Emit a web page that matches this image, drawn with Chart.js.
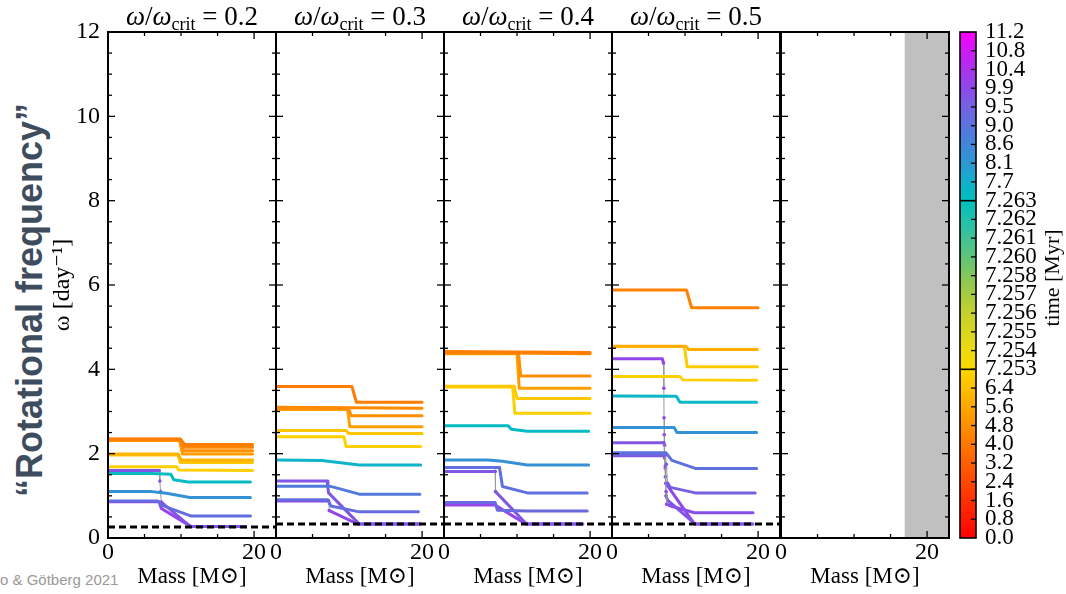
<!DOCTYPE html>
<html>
<head>
<meta charset="utf-8">
<script src="https://cdn.jsdelivr.net/npm/chart.js@4.4.1/dist/chart.umd.min.js"></script>
<style>
  body { margin: 0; background: #fff; }
  #fig { position: relative; width: 1066px; height: 594px; overflow: hidden; font-family: 'Liberation Serif', serif; }
  #fig canvas { position: absolute; top: 0; }
  .ptitle { position: absolute; top: 3px; width: 168px; text-align: center; font-size: 27px; line-height: 27px; white-space: nowrap; color: #000; }
  .ptitle .sub { font-size: 18px; position: relative; top: 5px; }
  #bigLabel { position: absolute; left: 30px; top: 300px; transform: translate(-50%, -50%) rotate(-90deg);
    font: bold 36px 'Liberation Sans', Arial, sans-serif; color: #3e4d5e; white-space: nowrap; }
  #credit { position: absolute; left: 0; top: 572px; font: 15px/15px 'Liberation Sans', Arial, sans-serif; color: #999; white-space: nowrap; }
</style>
</head>
<body>
<div id="fig">
  <div id="bigLabel">“Rotational frequency”</div>
  <div id="credit">o &amp; Götberg 2021</div>
</div>
<script>
// ---- data ----
const panelRatios = ['0.2', '0.3', '0.4', '0.5'];
const massMajorTicks = [0, 20];
const massMinorTicks = [5, 10, 15];
const omegaMajorTicks = [0, 2, 4, 6, 8, 10, 12];
const timeTickLabels = ['0.0', '0.8', '1.6', '2.4', '3.2', '4.0', '4.8', '5.6', '6.4',
  '7.253', '7.254', '7.255', '7.256', '7.257', '7.258', '7.260', '7.261', '7.262', '7.263',
  '7.7', '8.1', '8.6', '9.0', '9.5', '9.9', '10.4', '10.8', '11.2'];
const floorOmega = [0.26, 0.33, 0.33, 0.33];
const shadedMass = [16.9, 23];

// each profile: [time (Myr), [[mass, omega], ...]]
const profiles02 = [
  [4.2, [[0, 2.35], [9.9, 2.35], [10.5, 2.22], [19.8, 2.22]]],
  [4.5, [[0, 2.34], [9.9, 2.34], [10.4, 2.15], [19.8, 2.15]]],
  [4.8, [[0, 2.32], [9.8, 2.32], [10.3, 2.07], [19.8, 2.07]]],
  [5.3, [[0, 2.31], [9.8, 2.31], [10.2, 1.99], [19.8, 1.99]]],
  [6.0, [[0, 1.99], [9.6, 1.99], [10.0, 1.85], [19.8, 1.85]]],
  [6.6, [[0, 1.97], [9.6, 1.97], [9.9, 1.79], [19.8, 1.79]]],
  [7.0, [[0, 1.69], [9.4, 1.69], [9.7, 1.61], [19.8, 1.60]]],
  [7.4, [[0, 1.53], [6.0, 1.53], [8.6, 1.51], [9.0, 1.38], [11.0, 1.33], [19.5, 1.33]]],
  [8.3, [[0, 1.10], [6.0, 1.10], [8.0, 1.06], [11.2, 0.96], [19.5, 0.96]]],
  [9.2, [[0, 0.88], [6.8, 0.88], [7.3, 0.78], [11.4, 0.52], [19.5, 0.52]]],
  [9.7, [[0, 1.60], [7.0, 1.60], [7.1, 1.35], [7.2, 1.10], [7.3, 0.85], [11.3, 0.27], [18.8, 0.27]]],
  [10.0, [[0, 0.86], [7.0, 0.86], [7.3, 0.70], [11.4, 0.27], [18.8, 0.27]]]
];
const profiles03 = [
  [4.2, [[0, 3.59], [10.4, 3.59], [11.0, 3.22], [20.0, 3.22]]],
  [4.6, [[0, 3.10], [20.0, 3.08]]],
  [4.8, [[0, 3.08], [9.9, 3.08], [10.3, 2.90], [20.0, 2.90]]],
  [5.3, [[0, 3.05], [9.8, 3.05], [10.1, 2.64], [20.0, 2.64]]],
  [6.6, [[0, 2.55], [9.6, 2.55], [9.9, 2.48], [20.0, 2.48]]],
  [7.0, [[0, 2.40], [9.3, 2.40], [9.6, 2.17], [19.8, 2.17]]],
  [7.6, [[0, 1.85], [6.3, 1.84], [8.0, 1.80], [11.4, 1.73], [19.8, 1.73]]],
  [8.9, [[0, 1.23], [7.3, 1.23], [8.0, 1.20], [11.4, 1.04], [19.7, 1.04]]],
  [9.2, [[0, 0.91], [7.1, 0.91], [7.5, 0.76], [11.4, 0.62], [19.5, 0.62]]],
  [9.7, [[0, 1.35], [7.0, 1.35], [7.1, 1.20], [7.2, 1.07], [11.4, 0.33], [19.8, 0.33]]],
  [9.9, [[0, 0.88], [7.2, 0.88], [7.3, 0.65], [11.2, 0.33], [19.6, 0.33]]]
];
const profiles04 = [
  [4.2, [[0, 4.42], [20.0, 4.40]]],
  [4.5, [[0, 4.40], [20.0, 4.37]]],
  [4.8, [[0, 4.39], [10.2, 4.39], [10.5, 3.84], [20.0, 3.84]]],
  [5.3, [[0, 4.37], [10.0, 4.37], [10.3, 3.55], [20.0, 3.55]]],
  [6.7, [[0, 3.60], [9.6, 3.60], [10.0, 3.31], [20.0, 3.31]]],
  [7.0, [[0, 3.58], [9.4, 3.58], [9.7, 2.96], [20.0, 2.96]]],
  [7.4, [[0, 2.66], [8.8, 2.66], [9.2, 2.58], [11.4, 2.53], [19.8, 2.53]]],
  [8.3, [[0, 1.85], [6.0, 1.85], [8.0, 1.82], [11.4, 1.73], [19.8, 1.73]]],
  [9.1, [[0, 1.67], [7.6, 1.67], [8.0, 1.22], [11.4, 1.07], [19.6, 1.07]]],
  [9.3, [[0, 0.84], [7.0, 0.84], [7.3, 0.66], [11.4, 0.64], [19.6, 0.64]]],
  [9.7, [[0, 1.58], [7.0, 1.58], [7.05, 1.10], [11.3, 0.33], [19.0, 0.33]]],
  [10.0, [[0, 0.78], [7.0, 0.78], [11.2, 0.33], [19.0, 0.33]]]
];
const profiles05 = [
  [4.3, [[0, 5.88], [10.2, 5.88], [10.9, 5.46], [20.0, 5.46]]],
  [5.8, [[0, 4.55], [10.1, 4.55], [10.5, 4.47], [19.9, 4.47]]],
  [6.8, [[0, 4.54], [9.9, 4.54], [10.3, 4.06], [19.9, 4.06]]],
  [7.0, [[0, 3.83], [9.3, 3.83], [9.7, 3.75], [19.8, 3.74]]],
  [7.5, [[0, 3.37], [8.8, 3.36], [9.3, 3.22], [19.8, 3.22]]],
  [8.3, [[0, 2.62], [8.5, 2.62], [8.9, 2.50], [19.8, 2.50]]],
  [9.1, [[0, 2.02], [7.4, 2.02], [8.2, 1.84], [11.4, 1.65], [19.8, 1.65]]],
  [9.5, [[0, 1.97], [7.3, 1.97], [7.45, 1.75], [7.6, 1.30], [8.0, 1.20], [11.4, 1.07], [19.6, 1.07]]],
  [9.8, [[0, 1.95], [7.2, 1.95], [7.3, 1.70], [7.4, 1.10], [7.5, 0.80], [8.0, 0.76], [11.3, 0.60], [19.3, 0.60]]],
  [9.7, [[0, 2.26], [7.1, 2.26], [7.2, 1.90], [7.3, 1.45], [7.4, 1.00], [7.6, 0.90], [11.4, 0.33], [19.3, 0.33]]],
  [9.95, [[0, 4.25], [6.9, 4.25], [7.05, 4.15], [7.1, 3.55], [7.12, 2.85], [7.15, 2.45], [7.2, 2.20], [7.3, 1.65], [7.35, 1.30], [11.3, 0.33], [19.2, 0.33]]]
];
const panelProfiles = [profiles02, profiles03, profiles04, profiles05];

// ---- colormap of the time colorbar (position in tick index -> colour) ----
const cmapPos = [0, 9, 10, 12, 13.5, 15, 16.5, 18, 19, 20, 21, 22, 23, 24, 25, 26, 27];
const cmapCol = ['#ff0000', '#ffd700', '#ecda10', '#c4d22c', '#96c84c', '#60c47a', '#30c2a2', '#00c0c0',
  '#12b0cc', '#2c98d4', '#4286da', '#5a74de', '#7462e2', '#8e48e8', '#ac32ee', '#d018f6', '#ff00ff'];

const SERIF = "'Liberation Serif', 'DejaVu Serif', serif";
const PANEL_LEFT = [108, 276, 444, 612, 781];
const PANEL_W = 168, TOP = 32, BOTTOM = 538, H = 594;
const fig = document.getElementById('fig');

function hexToRgb(h) {
  return [parseInt(h.slice(1, 3), 16), parseInt(h.slice(3, 5), 16), parseInt(h.slice(5, 7), 16)];
}
function colorAtIndex(idx) {
  let i = 0;
  while (i < cmapPos.length - 2 && idx > cmapPos[i + 1]) i++;
  const f = Math.min(1, Math.max(0, (idx - cmapPos[i]) / (cmapPos[i + 1] - cmapPos[i])));
  const a = hexToRgb(cmapCol[i]), b = hexToRgb(cmapCol[i + 1]);
  const c = a.map((v, k) => Math.round(v + (b[k] - v) * f));
  return `rgb(${c[0]},${c[1]},${c[2]})`;
}
function timeToIndex(t) {
  const v = timeTickLabels.map(parseFloat);
  let i = 0;
  while (i < v.length - 2 && t > v[i + 1]) i++;
  return i + Math.min(1, Math.max(0, (t - v[i]) / (v[i + 1] - v[i])));
}

const steep = (a, b) => Math.abs(b.x - a.x) < 0.25 && Math.abs(b.y - a.y) > 0.2;

function profileDataset(time, pts) {
  const col = colorAtIndex(timeToIndex(time));
  const data = pts.map(([m, w]) => ({ x: m, y: w }));
  return {
    data: data,
    borderColor: col,
    backgroundColor: col,
    borderWidth: 3,
    borderCapStyle: 'round',
    borderJoinStyle: 'round',
    pointBorderWidth: 0,
    pointRadius: (c) => {
      const i = c.dataIndex;
      const near = (i > 0 && steep(data[i - 1], data[i])) || (i < data.length - 1 && steep(data[i], data[i + 1]));
      return near ? 1.8 : 0;
    },
    segment: {
      borderColor: (c) => steep(c.p0.parsed, c.p1.parsed) ? '#9a9a9a' : undefined,
      borderWidth: (c) => steep(c.p0.parsed, c.p1.parsed) ? 1 : undefined
    }
  };
}

// inward ticks on all four sides plus the black frame
const framePlugin = {
  id: 'frame',
  afterDatasetsDraw(chart) {
    const { ctx, chartArea: a, scales: { x, y } } = chart;
    ctx.save();
    ctx.strokeStyle = '#000';
    ctx.lineWidth = 1.3;
    const line = (x0, y0, x1, y1) => { ctx.beginPath(); ctx.moveTo(x0, y0); ctx.lineTo(x1, y1); ctx.stroke(); };
    const xt = (v, len) => { const px = x.getPixelForValue(v); line(px, a.bottom, px, a.bottom - len); line(px, a.top, px, a.top + len); };
    const yt = (v, len) => { const py = y.getPixelForValue(v); line(a.left, py, a.left + len, py); line(a.right, py, a.right - len, py); };
    massMajorTicks.forEach(v => xt(v, 7));
    massMinorTicks.forEach(v => xt(v, 4));
    for (let v = 0; v <= 12; v += 0.5) yt(v, omegaMajorTicks.includes(v) ? 7 : 4);
    ctx.lineWidth = 2;
    ctx.strokeRect(a.left, a.top, a.right - a.left, a.bottom - a.top);
    ctx.restore();
  }
};

function makePanel(p) {
  const first = p === 0;
  const padL = first ? PANEL_LEFT[0] : 24;
  const padR = 24;
  const w = padL + PANEL_W + padR;
  const canvas = document.createElement('canvas');
  canvas.width = w; canvas.height = H;
  canvas.style.left = (PANEL_LEFT[p] - padL) + 'px';
  canvas.style.width = w + 'px'; canvas.style.height = H + 'px';
  fig.appendChild(canvas);

  const datasets = [];
  if (p < 4) {
    datasets.push({
      data: [{ x: 0, y: floorOmega[p] }, { x: 23, y: floorOmega[p] }],
      borderColor: '#000', borderWidth: 3, borderDash: [7, 4], pointRadius: 0
    });
    panelProfiles[p].forEach(([t, pts]) => datasets.push(profileDataset(t, pts)));
  } else {
    datasets.push({
      data: [{ x: shadedMass[0], y: 12 }, { x: shadedMass[1], y: 12 }],
      borderWidth: 0, pointRadius: 0, fill: 'origin', backgroundColor: '#c0c0c0'
    });
  }

  new Chart(canvas, {
    type: 'line',
    data: { datasets: datasets },
    options: {
      responsive: false,
      animation: false,
      events: [],
      layout: { padding: { top: TOP, right: padR, left: 0, bottom: 0 } },
      plugins: { legend: { display: false }, tooltip: { enabled: false } },
      scales: {
        x: {
          type: 'linear', min: 0, max: 23,
          afterFit: (s) => { s.height = H - BOTTOM; },
          afterBuildTicks: (s) => { s.ticks = massMajorTicks.map(v => ({ value: v })); },
          grid: { display: false, drawTicks: false },
          border: { display: false },
          ticks: { autoSkip: false, maxRotation: 0, minRotation: 0, padding: 0, color: '#000', font: { family: SERIF, size: 24 } },
          title: { display: true, text: 'Mass [M⊙]', color: '#000', font: { family: SERIF, size: 23 }, padding: { top: 0, bottom: 3 } }
        },
        y: {
          type: 'linear', min: 0, max: 12,
          afterFit: (s) => { s.width = padL; },
          grid: { display: false, drawTicks: false },
          border: { display: false },
          ticks: { display: first, stepSize: 2, padding: 8, color: '#000', font: { family: SERIF, size: 24 } },
          title: { display: first, text: 'ω [day⁻¹]', color: '#000', font: { family: SERIF, size: 24 }, padding: { top: 48, bottom: 0 } }
        }
      }
    },
    plugins: [framePlugin]
  });
}

for (let p = 0; p < 5; p++) makePanel(p);

// panel titles
panelRatios.forEach((r, p) => {
  const d = document.createElement('div');
  d.className = 'ptitle';
  d.style.left = PANEL_LEFT[p] + 'px';
  d.innerHTML = '<i>ω</i>/<i>ω</i><span class="sub">crit</span> = ' + r;
  fig.appendChild(d);
});

// ---- colorbar ----
const cbLeft = 930, cbW = 136;
const cbCanvas = document.createElement('canvas');
cbCanvas.width = cbW; cbCanvas.height = H;
cbCanvas.style.left = cbLeft + 'px';
cbCanvas.style.width = cbW + 'px'; cbCanvas.style.height = H + 'px';
fig.appendChild(cbCanvas);

const cbarPlugin = {
  id: 'cbar',
  afterDatasetsDraw(chart) {
    const { ctx, chartArea: a, scales: { y } } = chart;
    ctx.save();
    ctx.strokeStyle = '#000';
    ctx.lineWidth = 1.3;
    for (let i = 1; i < timeTickLabels.length - 1; i++) {
      const py = y.getPixelForValue(i);
      ctx.beginPath(); ctx.moveTo(a.right, py); ctx.lineTo(a.right - 5, py); ctx.stroke();
    }
    ctx.lineWidth = 1.6;
    [9, 18].forEach(i => {
      const py = y.getPixelForValue(i);
      ctx.beginPath(); ctx.moveTo(a.left, py); ctx.lineTo(a.right, py); ctx.stroke();
    });
    ctx.strokeRect(a.left, a.top, a.right - a.left, a.bottom - a.top);
    ctx.translate(123, (a.top + a.bottom) / 2 - 7);
    ctx.rotate(-Math.PI / 2);
    ctx.fillStyle = '#000';
    ctx.font = '22px ' + SERIF;
    ctx.textAlign = 'center';
    ctx.textBaseline = 'middle';
    ctx.fillText('time [Myr]', 0, 0);
    ctx.restore();
  }
};

new Chart(cbCanvas, {
  type: 'bar',
  data: {
    labels: ['time'],
    datasets: [{
      data: [timeTickLabels.length - 1],
      borderWidth: 0,
      barPercentage: 1,
      categoryPercentage: 1,
      backgroundColor: (c) => {
        const area = c.chart.chartArea;
        if (!area) return '#ccc';
        const g = c.chart.ctx.createLinearGradient(0, area.bottom, 0, area.top);
        cmapPos.forEach((pos, i) => g.addColorStop(pos / (timeTickLabels.length - 1), cmapCol[i]));
        return g;
      }
    }]
  },
  options: {
    responsive: false,
    animation: false,
    events: [],
    layout: { padding: { top: TOP, bottom: H - BOTTOM, left: 30, right: 0 } },
    plugins: { legend: { display: false }, tooltip: { enabled: false } },
    scales: {
      x: { display: false },
      y: {
        position: 'right', min: 0, max: timeTickLabels.length - 1,
        afterFit: (s) => { s.width = cbW - 30 - 16; },
        afterBuildTicks: (s) => { s.ticks = timeTickLabels.map((_, i) => ({ value: i })); },
        grid: { display: false, drawTicks: false },
        border: { display: false },
        ticks: {
          autoSkip: false, padding: 9, color: '#000',
          font: { family: SERIF, size: 23, lineHeight: 1 },
          callback: (v, i) => timeTickLabels[i]
        }
      }
    }
  },
  plugins: [cbarPlugin]
});
</script>
</body>
</html>
